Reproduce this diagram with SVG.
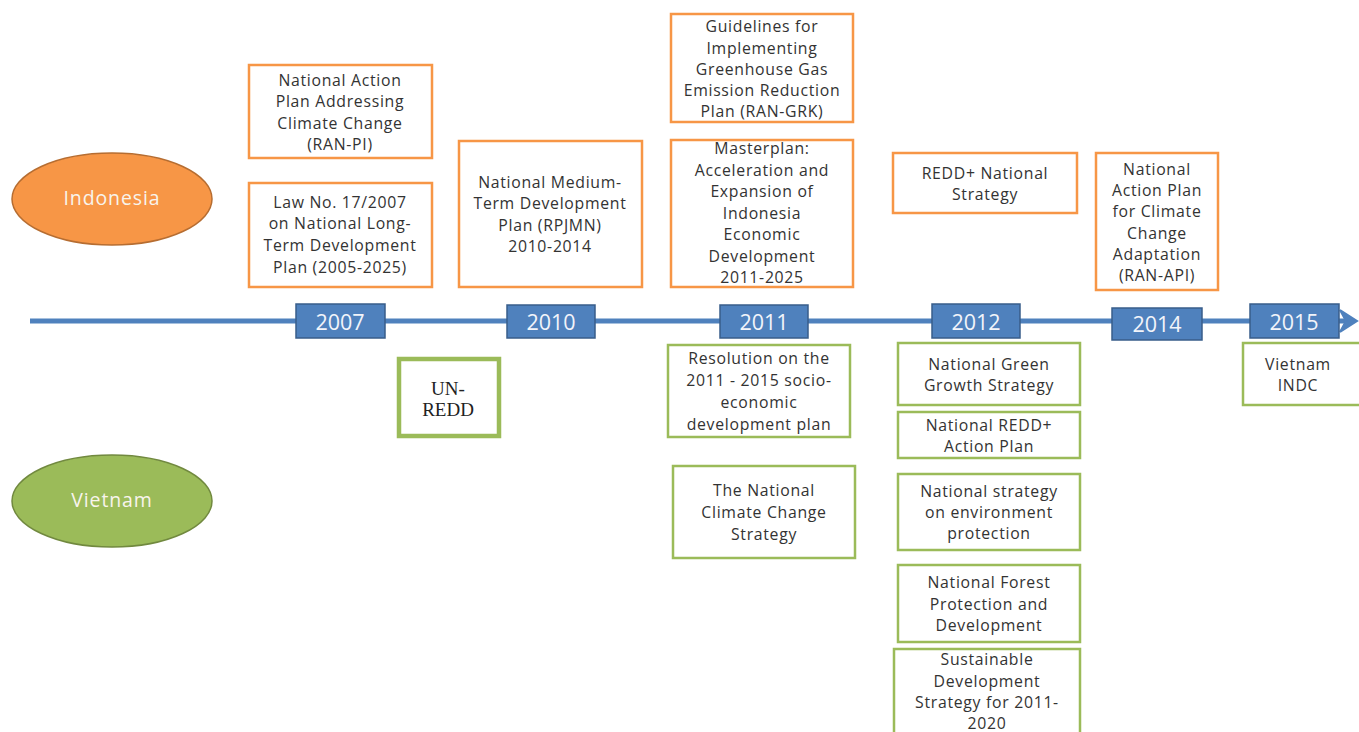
<svg xmlns="http://www.w3.org/2000/svg" width="1359" height="732" viewBox="0 0 1359 732">
<style>
.ob{fill:#fff;stroke:#F79646;stroke-width:2.5}
.gb{fill:#fff;stroke:#9BBB59;stroke-width:2.5}
.t{font-family:"Open Sans","Liberation Sans",sans-serif;font-size:15.8px;fill:#333;text-anchor:middle;letter-spacing:0.7px}
.yb{fill:#4F81BD;stroke:#385D8A;stroke-width:1.5}
.yt{font-family:"Open Sans","Liberation Sans",sans-serif;font-size:21.5px;fill:#F2F4FA;text-anchor:middle}
.ct{font-family:"Open Sans","Liberation Sans",sans-serif;font-size:19.5px;fill:#F8F4EC;text-anchor:middle;letter-spacing:0.9px}
</style>
<rect width="1359" height="732" fill="#fff"/>
<g id="connectors">
<line x1="30" y1="321" x2="1350" y2="321" stroke="#4F81BD" stroke-width="5"/>
<polygon points="1340,310 1357,321 1340,332 1346,321" fill="#4F81BD" stroke="#4F81BD" stroke-width="2"/>
</g>
<g id="indonesia"><ellipse cx="112" cy="199" rx="100" ry="46" fill="#F79646" stroke="#B66D31" stroke-width="1.5"/><text class="ct" x="112" y="205">Indonesia</text></g>
<g id="vietnam"><ellipse cx="112" cy="501" rx="100" ry="46" fill="#9BBB59" stroke="#71893F" stroke-width="1.5"/><text class="ct" x="112" y="507">Vietnam</text></g>
<g id="y2007"><rect class="yb" x="296" y="304" width="89" height="34"/><text class="yt" x="340" y="330">2007</text></g>
<g id="y2010"><rect class="yb" x="507" y="305" width="88" height="33"/><text class="yt" x="551" y="330">2010</text></g>
<g id="y2011"><rect class="yb" x="720" y="305" width="88" height="33"/><text class="yt" x="764" y="330">2011</text></g>
<g id="y2012"><rect class="yb" x="932" y="304" width="88" height="34"/><text class="yt" x="976" y="330">2012</text></g>
<g id="y2014"><rect class="yb" x="1112" y="308" width="90" height="32"/><text class="yt" x="1157" y="332">2014</text></g>
<g id="y2015"><rect class="yb" x="1250" y="304" width="89" height="34"/><text class="yt" x="1294" y="330">2015</text></g>
<g id="ranpi"><rect class="ob" x="249" y="65" width="183" height="93"/><text class="t" x="340" y="86">National Action<tspan x="340" y="107">Plan Addressing</tspan><tspan x="340" y="129">Climate Change</tspan><tspan x="340" y="150">(RAN-PI)</tspan></text></g>
<g id="law"><rect class="ob" x="249" y="183" width="183" height="104"/><text class="t" x="340" y="208">Law No. 17/2007<tspan x="340" y="229">on National Long-</tspan><tspan x="340" y="251">Term Development</tspan><tspan x="340" y="273">Plan (2005-2025)</tspan></text></g>
<g id="rpjmn"><rect class="ob" x="459" y="141" width="183" height="146"/><text class="t" x="550" y="188">National Medium-<tspan x="550" y="209">Term Development</tspan><tspan x="550" y="231">Plan (RPJMN)</tspan><tspan x="550" y="252">2010-2014</tspan></text></g>
<g id="rangrk"><rect class="ob" x="671" y="14" width="182" height="108"/><text class="t" x="762" y="32">Guidelines for<tspan x="762" y="54">Implementing</tspan><tspan x="762" y="75">Greenhouse Gas</tspan><tspan x="762" y="96">Emission Reduction</tspan><tspan x="762" y="117">Plan (RAN-GRK)</tspan></text></g>
<g id="masterplan"><rect class="ob" x="671" y="140" width="182" height="147"/><text class="t" x="762" y="154">Masterplan:<tspan x="762" y="176">Acceleration and</tspan><tspan x="762" y="197">Expansion of</tspan><tspan x="762" y="219">Indonesia</tspan><tspan x="762" y="240">Economic</tspan><tspan x="762" y="262">Development</tspan><tspan x="762" y="283">2011-2025</tspan></text></g>
<g id="reddstrategy"><rect class="ob" x="893" y="153" width="184" height="60"/><text class="t" x="985" y="179">REDD+ National<tspan x="985" y="200">Strategy</tspan></text></g>
<g id="ranapi"><rect class="ob" x="1096" y="153" width="122" height="137"/><text class="t" x="1157" y="175">National<tspan x="1157" y="196">Action Plan</tspan><tspan x="1157" y="217">for Climate</tspan><tspan x="1157" y="239">Change</tspan><tspan x="1157" y="260">Adaptation</tspan><tspan x="1157" y="281">(RAN-API)</tspan></text></g>
<g id="unredd"><rect x="399" y="359" width="100" height="77" fill="#fff" stroke="#9BBB59" stroke-width="4.5"/><text x="448" y="395" font-family="'Liberation Serif',serif" font-size="19" fill="#222" text-anchor="middle">UN-<tspan x="448" y="416">REDD</tspan></text></g>
<g id="resolution"><rect class="gb" x="668" y="345" width="182" height="92"/><text class="t" x="759" y="364">Resolution on the<tspan x="759" y="386">2011 - 2015 socio-</tspan><tspan x="759" y="408">economic</tspan><tspan x="759" y="430">development plan</tspan></text></g>
<g id="nccs"><rect class="gb" x="673" y="466" width="182" height="92"/><text class="t" x="764" y="496">The National<tspan x="764" y="518">Climate Change</tspan><tspan x="764" y="540">Strategy</tspan></text></g>
<g id="greengrowth"><rect class="gb" x="898" y="343" width="182" height="62"/><text class="t" x="989" y="370">National Green<tspan x="989" y="391">Growth Strategy</tspan></text></g>
<g id="reddaction"><rect class="gb" x="898" y="412" width="182" height="46"/><text class="t" x="989" y="431">National REDD+<tspan x="989" y="452">Action Plan</tspan></text></g>
<g id="envstrategy"><rect class="gb" x="898" y="474" width="182" height="76"/><text class="t" x="989" y="497">National strategy<tspan x="989" y="518">on environment</tspan><tspan x="989" y="539">protection</tspan></text></g>
<g id="forest"><rect class="gb" x="898" y="565" width="182" height="77"/><text class="t" x="989" y="588">National Forest<tspan x="989" y="610">Protection and</tspan><tspan x="989" y="631">Development</tspan></text></g>
<g id="sustainable"><rect class="gb" x="894" y="649" width="186" height="90"/><text class="t" x="987" y="665">Sustainable<tspan x="987" y="687">Development</tspan><tspan x="987" y="708">Strategy for 2011-</tspan><tspan x="987" y="729">2020</tspan></text></g>
<g id="indc"><rect class="gb" x="1243" y="343" width="125" height="62"/><text class="t" x="1298" y="370">Vietnam<tspan x="1298" y="391">INDC</tspan></text></g>
</svg>
